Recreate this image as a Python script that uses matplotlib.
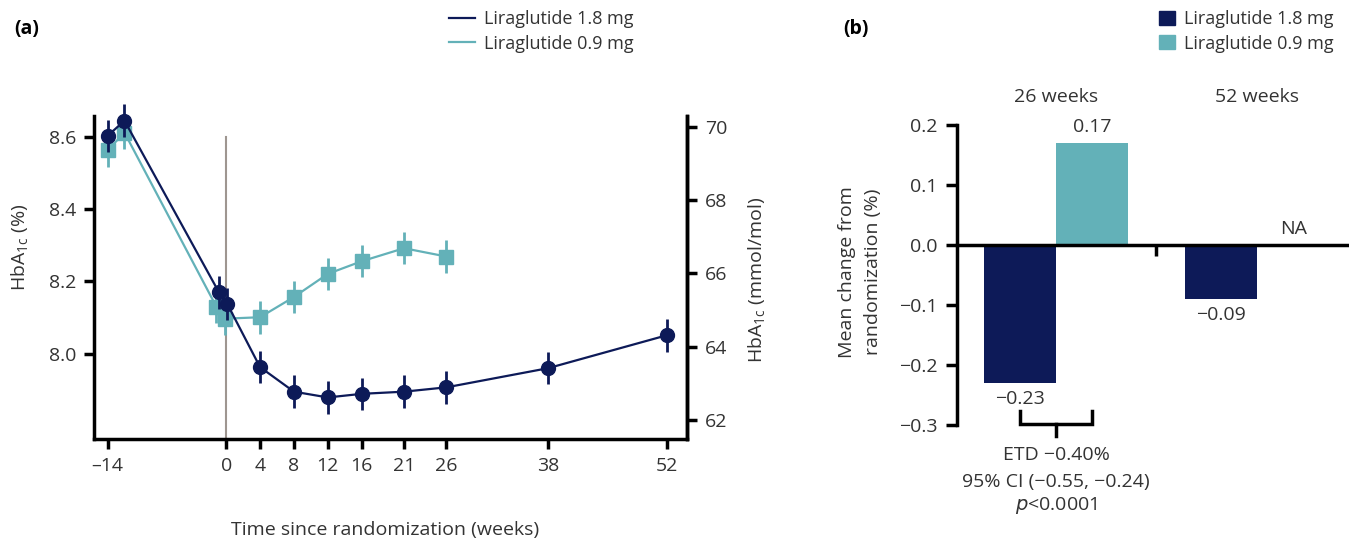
import matplotlib
matplotlib.use('Agg')
import matplotlib.pyplot as plt
from matplotlib.lines import Line2D
from matplotlib.patches import Patch

# ---- data ----
series_names = ['Liraglutide 1.8 mg', 'Liraglutide 0.9 mg']

weeks_18 = [-14, -12, -1, 0, 4, 8, 12, 16, 21, 26, 38, 52]
hba1c_18 = [8.603, 8.645, 8.170, 8.137, 7.963, 7.895, 7.879, 7.889, 7.895, 7.907, 7.960, 8.051]
err_18 = [0.045, 0.045, 0.045, 0.045, 0.045, 0.045, 0.045, 0.045, 0.045, 0.045, 0.045, 0.045]

weeks_09 = [-14, -12, -1, 0, 4, 8, 12, 16, 21, 26]
hba1c_09 = [8.563, 8.612, 8.130, 8.097, 8.101, 8.157, 8.221, 8.256, 8.292, 8.269]
err_09 = [0.045, 0.045, 0.045, 0.045, 0.045, 0.045, 0.045, 0.045, 0.045, 0.045]

week_ticks = [-14, 0, 4, 8, 12, 16, 21, 26, 38, 52]
week_labels = ['\u201314', '0', '4', '8', '12', '16', '21', '26', '38', '52']

groups = ['26 weeks', '52 weeks']
change_18 = [-0.23, -0.09]
change_09 = [0.17, None]
change_labels_18 = ['\u22120.23', '\u22120.09']
change_labels_09 = ['0.17', 'NA']

NAVY = '#0d1a58'
TEAL = '#63b1b8'
TXT = '#333333'
W, H = 1349, 541

plt.rcParams['font.family'] = ['Open Sans', 'DejaVu Sans']
plt.rcParams['mathtext.default'] = 'regular'
plt.rcParams['text.color'] = TXT
plt.rcParams['axes.labelcolor'] = TXT
plt.rcParams['xtick.color'] = 'black'
plt.rcParams['ytick.color'] = 'black'
plt.rcParams['xtick.labelcolor'] = TXT
plt.rcParams['ytick.labelcolor'] = TXT


def fx(x):
    return x / W


def fy(y):
    return 1 - y / H


fig = plt.figure(figsize=(W / 100, H / 100), dpi=100)

# ---- panel (a) ----
ax = fig.add_axes([fx(94), fy(439), fx(687 - 94), (439 - 116) / H])
ax.set_xlim(-15.6, 54.4)
ax.set_ylim(7.764, 8.658)

ax.plot([0, 0], [7.764, 8.6], color='#9e9690', lw=1.5, zorder=1)

dodge = 0.15
for wk, val, err, col, mk, dz, z in [(weeks_09, hba1c_09, err_09, TEAL, 's', -dodge, 3),
                                     (weeks_18, hba1c_18, err_18, NAVY, 'o', dodge, 4)]:
    xs_ = [w + dz if w in (-1, 0) else w for w in wk]
    line, caps, bars = ax.errorbar(xs_, val, yerr=err, color=col, marker=mk, ms=10, lw=1.6,
                                   elinewidth=2, capsize=0, zorder=z)
    line.set_clip_on(False)
    for b in bars:
        b.set_clip_on(False)

ax.set_xticks(week_ticks)
ax.set_xticklabels(week_labels)
ax.set_yticks([8.0, 8.2, 8.4, 8.6])
ax.set_yticklabels(['8.0', '8.2', '8.4', '8.6'])
ax.spines['top'].set_visible(False)
for s in ['left', 'bottom', 'right']:
    ax.spines[s].set_linewidth(2.5)
ax.tick_params(axis='both', width=2.5, length=7, labelsize=14, pad=6)

ax2 = ax.twinx()
ax2.set_ylim(61.48, 70.30)
ax2.set_yticks([62, 64, 66, 68, 70])
ax2.spines['top'].set_visible(False)
ax2.spines['right'].set_linewidth(2.5)
ax2.spines['left'].set_visible(False)
ax2.spines['bottom'].set_visible(False)
ax2.tick_params(axis='y', width=2.5, length=7, labelsize=14, pad=6)
ax.set_zorder(ax2.get_zorder() + 1)
ax.patch.set_visible(False)

fig.text(fx(20), fy(247), 'HbA$_{1c}$ (%)', rotation=90, ha='center', va='center', fontsize=14)
fig.text(fx(757), fy(280), 'HbA$_{1c}$ (mmol/mol)', rotation=90, ha='center', va='center', fontsize=14)
fig.text(fx(385), fy(530), 'Time since randomization (weeks)', ha='center', va='center', fontsize=14)
fig.text(fx(14), fy(29), '(a)', ha='left', va='center', fontsize=14, fontweight='bold', color='black')

h_a = [Line2D([], [], color=NAVY, lw=1.6), Line2D([], [], color=TEAL, lw=1.6)]
fig.legend(h_a, series_names, loc='upper left', bbox_to_anchor=(fx(442), fy(3)), frameon=False,
           fontsize=13, handlelength=1.4, handletextpad=0.5, labelspacing=0.35, borderaxespad=0)

# ---- panel (b) ----
bx = fig.add_axes([fx(956.7), fy(425), 1 - fx(956.7), (425 - 125) / H])
bx.set_xlim(-0.494, 1.458)
bx.set_ylim(-0.3, 0.2)
bw = 0.36
xs = list(range(len(groups)))
bx.bar([x - bw / 2 for x in xs], change_18, width=bw, color=NAVY, zorder=2)
bx.bar([x + bw / 2 for x, v in zip(xs, change_09) if v is not None],
       [v for v in change_09 if v is not None], width=bw, color=TEAL, zorder=2)

for x, v, lab in zip(xs, change_18, change_labels_18):
    bx.text(x - bw / 2, v - 0.012, lab, ha='center', va='top', fontsize=14)
for x, v, lab in zip(xs, change_09, change_labels_09):
    if v is None:
        bx.text(x + bw / 2, 0.012, lab, ha='center', va='bottom', fontsize=14)
    else:
        bx.text(x + bw / 2, v + 0.012, lab, ha='center', va='bottom', fontsize=14)
for x, g in zip(xs, groups):
    bx.text(x, 0.246, g, ha='center', va='center', fontsize=14)

bx.spines['top'].set_visible(False)
bx.spines['right'].set_visible(False)
bx.spines['bottom'].set_position(('data', 0))
bx.spines['bottom'].set_linewidth(2.5)
bx.spines['left'].set_linewidth(2.5)
bx.set_xticks([0.5])
bx.set_xticklabels([])
bx.set_yticks([0.2, 0.1, 0.0, -0.1, -0.2, -0.3])
bx.set_yticklabels(['0.2', '0.1', '0.0', '\u22120.1', '\u22120.2', '\u22120.3'])
bx.tick_params(axis='both', width=2.5, length=8, labelsize=14, pad=6)

# ETD bracket
x_l, x_r = -bw / 2, bw / 2
bx.plot([x_l, x_l, x_r, x_r], [-0.277, -0.2985, -0.2985, -0.277], color='black', lw=2.5,
        clip_on=False, solid_joinstyle='miter')
bx.plot([0, 0], [-0.2985, -0.318], color='black', lw=2.5, clip_on=False)
fig.text(fx(1056), fy(455), 'ETD \u22120.40%', ha='center', va='center', fontsize=14)
fig.text(fx(1056), fy(482), '95% CI (\u22120.55, \u22120.24)', ha='center', va='center', fontsize=14)
fig.text(fx(1056), fy(506), '$\\it{p}$<0.0001', ha='center', va='center', fontsize=14)

fig.text(fx(860), fy(272), 'Mean change from\nrandomization (%)', rotation=90, ha='center',
         va='center', fontsize=14, linespacing=1.55)
fig.text(fx(843), fy(29), '(b)', ha='left', va='center', fontsize=14, fontweight='bold', color='black')

h_b = [Patch(color=NAVY), Patch(color=TEAL)]
fig.legend(h_b, series_names, loc='upper left', bbox_to_anchor=(fx(1152), fy(3)), frameon=False,
           fontsize=13, handlelength=0.85, handleheight=0.85, handletextpad=0.5, labelspacing=0.35,
           borderaxespad=0)

fig.savefig('out.png', dpi=100)
